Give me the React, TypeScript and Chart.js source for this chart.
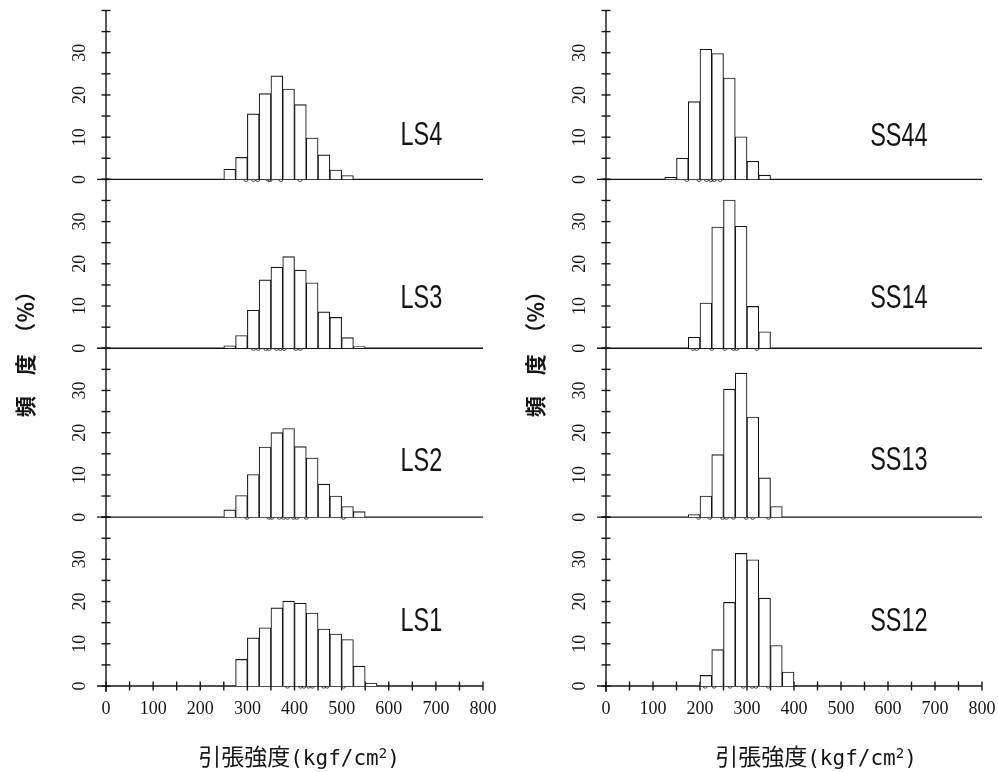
import React, { useEffect, useRef } from 'react';
import { Chart, registerables } from 'chart.js';

Chart.register(...registerables);

// ---------- data ----------
const BIN_WIDTH = 25;
const X_MIN = 0;
const X_MAX = 800;
const Y_MAX = 40;
const X_TICK_LABELS = [0, 100, 200, 300, 400, 500, 600, 700, 800];
const X_TICK_MARKS = [0, 50, 100, 150, 200, 250, 300, 350, 400, 450, 500, 550, 600, 650, 700, 750, 800];
const Y_TICK_LABELS = [0, 10, 20, 30];
const Y_TICK_MARKS = [0, 5, 10, 15, 20, 25, 30, 35, 40];

const Y_TITLE = '頻　度　（％）';
const X_TITLE_MAIN = '引張強度';
const X_TITLE_UNIT = '(kgf/cm';
const X_TITLE_SUP = '2';
const X_TITLE_END = ')';

// left column (LS)
const LS4_START = 250;
const LS4_FREQ = [2.4, 5.2, 15.5, 20.3, 24.5, 21.4, 17.7, 9.8, 5.8, 2.2, 0.9];
const LS4_MARKS = [297, 313, 322, 345, 348, 371, 412];

const LS3_START = 250;
const LS3_FREQ = [0.6, 3.0, 9.0, 16.2, 19.2, 21.7, 18.5, 15.5, 8.6, 7.3, 2.5, 0.4];
const LS3_MARKS = [313, 323, 339, 346, 362, 370, 378, 403, 412];

const LS2_START = 250;
const LS2_FREQ = [1.7, 5.1, 10.1, 16.6, 20.0, 21.0, 16.7, 14.0, 7.8, 5.0, 2.5, 1.3];
const LS2_MARKS = [299, 346, 352, 368, 377, 385, 398, 405, 425, 504];

const LS1_START = 275;
const LS1_FREQ = [6.3, 11.4, 13.8, 18.5, 20.1, 19.6, 17.3, 13.5, 12.3, 11.0, 4.7, 0.7];
const LS1_MARKS = [385, 413, 420, 430, 438, 462, 469, 504];

// right column (SS)
const SS44_START = 125;
const SS44_FREQ = [0.5, 5.0, 18.4, 30.8, 29.8, 24.0, 10.1, 4.3, 1.0];
const SS44_MARKS = [172, 198, 214, 223, 230, 243];

const SS14_START = 175;
const SS14_FREQ = [2.6, 10.7, 28.7, 35.1, 28.9, 9.9, 3.9];
const SS14_MARKS = [185, 193, 225, 253, 271, 278, 321];

const SS13_START = 175;
const SS13_FREQ = [0.6, 5.0, 14.8, 30.3, 34.1, 23.7, 9.3, 2.5];
const SS13_MARKS = [197, 221, 248, 256, 271, 298, 312, 346];

const SS12_START = 200;
const SS12_FREQ = [2.5, 8.6, 19.8, 31.4, 29.9, 20.8, 9.6, 3.3];
const SS12_MARKS = [211, 230, 264, 292, 311, 319, 345];

type Panel = {
  name: string;
  start: number;
  freq: number[];
  marks: number[];
  labelX: number;
  labelY: number;
};

const LEFT_PANELS: Panel[] = [
  { name: 'LS4', start: LS4_START, freq: LS4_FREQ, marks: LS4_MARKS, labelX: 625, labelY: 10.4 },
  { name: 'LS3', start: LS3_START, freq: LS3_FREQ, marks: LS3_MARKS, labelX: 625, labelY: 11.8 },
  { name: 'LS2', start: LS2_START, freq: LS2_FREQ, marks: LS2_MARKS, labelX: 625, labelY: 13.2 },
  { name: 'LS1', start: LS1_START, freq: LS1_FREQ, marks: LS1_MARKS, labelX: 625, labelY: 15.2 },
];

const RIGHT_PANELS: Panel[] = [
  { name: 'SS44', start: SS44_START, freq: SS44_FREQ, marks: SS44_MARKS, labelX: 562, labelY: 10.2 },
  { name: 'SS14', start: SS14_START, freq: SS14_FREQ, marks: SS14_MARKS, labelX: 562, labelY: 11.7 },
  { name: 'SS13', start: SS13_START, freq: SS13_FREQ, marks: SS13_MARKS, labelX: 562, labelY: 13.5 },
  { name: 'SS12', start: SS12_START, freq: SS12_FREQ, marks: SS12_MARKS, labelX: 562, labelY: 15.2 },
];

const INK = '#141414';

type ColCfg = {
  left: number;
  padLeft: number;
  padRight: number;
  yTitleX: number;
  xTitleX: number;
};

const CANVAS_W = 499;
const CANVAS_H = 772;
const PAD_TOP = 10.5;
const PAD_BOTTOM = 86;
const Y_TITLE_Y = 349;
const X_TITLE_Y = 757;

function makePlugin(panels: Panel[], ids: string[], cfg: ColCfg) {
  return {
    id: 'paperAxes',
    beforeDatasetsDraw(chart: any) {
      const ctx = chart.ctx as CanvasRenderingContext2D;
      const xs = chart.scales.x;
      const x0 = xs.getPixelForValue(X_MIN);
      const xEnd = xs.getPixelForValue(X_MAX);
      const scales = ids.map((id) => chart.scales[id]);
      const topY = scales[0].getPixelForValue(Y_MAX);
      const bottomY = scales[scales.length - 1].getPixelForValue(0);
      ctx.save();
      ctx.strokeStyle = INK;
      ctx.lineWidth = 1.4;
      const line = (a: number, b: number, c: number, d: number) => {
        ctx.beginPath();
        ctx.moveTo(a, b);
        ctx.lineTo(c, d);
        ctx.stroke();
      };
      line(x0, topY, x0, bottomY + 6);
      scales.forEach((s: any) => {
        const y0 = s.getPixelForValue(0);
        line(x0 - 9, y0, xEnd, y0);
        Y_TICK_MARKS.forEach((v) => {
          const y = s.getPixelForValue(v);
          line(x0 - 4.5, y, x0 + 4.5, y);
        });
      });
      X_TICK_MARKS.forEach((v) => {
        const x = xs.getPixelForValue(v);
        line(x, bottomY - 4.5, x, bottomY + 4.5);
      });
      ctx.fillStyle = INK;
      ctx.font = '18px "Liberation Serif"';
      ctx.textAlign = 'center';
      ctx.textBaseline = 'middle';
      X_TICK_LABELS.forEach((v) => {
        ctx.fillText(String(v), xs.getPixelForValue(v), bottomY + 23);
      });
      scales.forEach((s: any) => {
        Y_TICK_LABELS.forEach((v) => {
          const y = s.getPixelForValue(v);
          ctx.save();
          ctx.translate(x0 - 26, y);
          ctx.rotate(-Math.PI / 2);
          ctx.fillText(String(v), 0, 0);
          ctx.restore();
        });
      });
      ctx.restore();
    },
    afterDraw(chart: any) {
      const ctx = chart.ctx as CanvasRenderingContext2D;
      const xs = chart.scales.x;
      const scales = ids.map((id) => chart.scales[id]);
      ctx.save();
      ctx.fillStyle = INK;
      // panel labels
      panels.forEach((p, i) => {
        const x = xs.getPixelForValue(p.labelX);
        const y = scales[i].getPixelForValue(p.labelY);
        ctx.save();
        ctx.translate(x, y);
        ctx.scale(0.69, 1);
        ctx.font = '34px "Liberation Sans"';
        ctx.textAlign = 'left';
        ctx.textBaseline = 'middle';
        ctx.fillText(p.name, 0, 0);
        ctx.restore();
      });
      // y title
      ctx.save();
      ctx.translate(cfg.yTitleX, Y_TITLE_Y);
      ctx.rotate(-Math.PI / 2);
      ctx.font = 'bold 21px "Noto Sans CJK JP"';
      ctx.textAlign = 'center';
      ctx.textBaseline = 'middle';
      ctx.fillText(Y_TITLE, 0, 0);
      ctx.restore();
      // x title
      ctx.textAlign = 'left';
      ctx.textBaseline = 'alphabetic';
      const fMain = '23px "Noto Sans CJK JP"';
      const fUnit = '21px "DejaVu Sans Mono"';
      const fSup = '14px "DejaVu Sans Mono"';
      ctx.font = fMain;
      const w1 = ctx.measureText(X_TITLE_MAIN).width;
      ctx.font = fUnit;
      const w2 = ctx.measureText(X_TITLE_UNIT).width;
      const w4 = ctx.measureText(X_TITLE_END).width;
      ctx.font = fSup;
      const w3 = ctx.measureText(X_TITLE_SUP).width;
      let x = cfg.xTitleX - (w1 + w2 + w3 + w4) / 2;
      const base = X_TITLE_Y + 8;
      ctx.font = fMain;
      ctx.fillText(X_TITLE_MAIN, x, base);
      x += w1;
      ctx.font = fUnit;
      ctx.fillText(X_TITLE_UNIT, x, base);
      x += w2;
      ctx.font = fSup;
      ctx.fillText(X_TITLE_SUP, x, base - 7);
      x += w3;
      ctx.font = fUnit;
      ctx.fillText(X_TITLE_END, x, base);
      ctx.restore();
    },
  };
}

function Column({ panels, cfg }: { panels: Panel[]; cfg: ColCfg }) {
  const ref = useRef<HTMLCanvasElement | null>(null);
  useEffect(() => {
    if (!ref.current) return;
    const ids = panels.map((p) => 'y' + p.name);
    const scales: any = {
      x: { type: 'linear', min: X_MIN, max: X_MAX, offset: false, display: false, grid: { offset: false } },
    };
    // defined bottom-to-top so that the stacked layout puts the first panel on top
    [...ids].reverse().forEach((id) => {
      scales[id] = {
        type: 'linear',
        min: 0,
        max: Y_MAX,
        position: 'left',
        stack: 'col',
        stackWeight: 1,
        display: false,
      };
    });
    const datasets: any[] = [];
    panels.forEach((p, i) => {
      datasets.push({
        type: 'bar',
        label: p.name,
        yAxisID: ids[i],
        data: p.freq.map((v, k) => ({ x: p.start + BIN_WIDTH * k + BIN_WIDTH / 2, y: v })),
        backgroundColor: '#ffffff',
        borderColor: INK,
        borderWidth: 1.1,
        grouped: false,
        barPercentage: 1,
        categoryPercentage: 1,
      });
      datasets.push({
        type: 'line',
        label: p.name + ' marks',
        yAxisID: ids[i],
        data: p.marks.map((m) => ({ x: m, y: 0 })),
        showLine: false,
        pointRadius: 2.2,
        pointBorderWidth: 0.9,
        pointBorderColor: '#333',
        pointBackgroundColor: 'rgba(255,255,255,0)',
        clip: false,
      });
    });
    const chart = new Chart(ref.current, {
      type: 'bar',
      data: { datasets },
      options: {
        responsive: false,
        animation: false,
        events: [],
        layout: {
          padding: { left: cfg.padLeft, right: cfg.padRight, top: PAD_TOP, bottom: PAD_BOTTOM },
        },
        plugins: { legend: { display: false }, tooltip: { enabled: false } },
        scales,
      },
      plugins: [makePlugin(panels, ids, cfg)],
    } as any);
    return () => chart.destroy();
  }, []);
  return (
    <canvas
      ref={ref}
      width={CANVAS_W}
      height={CANVAS_H}
      style={{ position: 'absolute', left: cfg.left, top: 0, width: CANVAS_W, height: CANVAS_H }}
    />
  );
}

export default function App() {
  return (
    <div style={{ position: 'absolute', left: 0, top: 0, width: 998, height: 772, background: '#fff' }}>
      <Column
        panels={LEFT_PANELS}
        cfg={{ left: 0, padLeft: 106, padRight: 16, yTitleX: 25, xTitleX: 299 }}
      />
      <Column
        panels={RIGHT_PANELS}
        cfg={{ left: 499, padLeft: 107, padRight: 16, yTitleX: 36, xTitleX: 317 }}
      />
    </div>
  );
}
